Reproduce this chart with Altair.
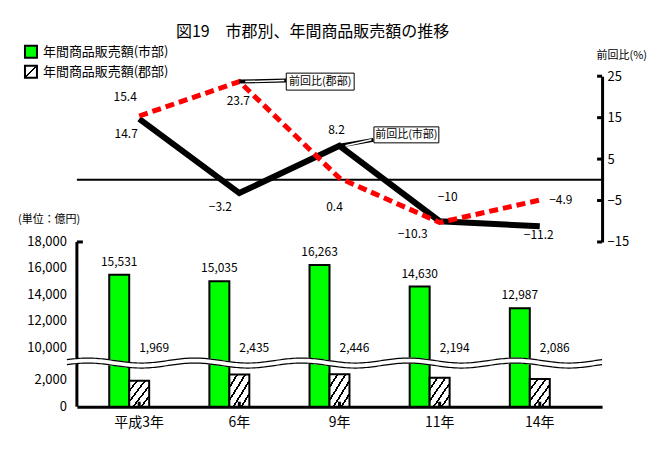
import altair as alt
import pandas as pd
import numpy as np

# ---------------- data ----------------
YEARS = ["平成3年", "6年", "9年", "11年", "14年"]
SALES_CITY = [15531, 15035, 16263, 14630, 12987]      # 年間商品販売額(市部) 億円
SALES_COUNTY = [1969, 2435, 2446, 2194, 2086]         # 年間商品販売額(郡部) 億円
RATE_CITY = [14.7, -3.2, 8.2, -10.0, -11.2]           # 前回比(市部) %
RATE_COUNTY = [15.4, 23.7, 0.4, -10.3, -4.9]          # 前回比(郡部) %
RATE_TICKS = [25, 15, 5, -5, -15]
SALES_TICKS = [0, 2000, 10000, 12000, 14000, 16000, 18000]

TITLE = "図19　市郡別、年間商品販売額の推移"
LEGEND_CITY = "年間商品販売額(市部)"
LEGEND_COUNTY = "年間商品販売額(郡部)"
RATE_AXIS_TITLE = "前回比(%)"
UNIT_TITLE = "(単位：億円)"
CALLOUT_CITY = "前回比(市部)"
CALLOUT_COUNTY = "前回比(郡部)"

# ---------------- layout / style ----------------
W = 526
H_TOP = 166
H_BOT = 165
GAP = 5550          # amount removed by the axis break
BREAK_LOW = 5000    # data values above this are shifted down by GAP
BREAK_DISP = 3300   # where the wavy break is drawn (display units)
Y_MAX_DISP = SALES_TICKS[-1] - GAP
FONT = "Noto Sans CJK JP"
GREEN = "#00ff00"
RED = "#ff0000"

CITY_LABEL_OFFSETS = [(-13, 15), (-19, 14), (-3, -16), (8, -24), (-1, 9)]
COUNTY_LABEL_OFFSETS = [(-14, -19), (-1, 19), (-5, 29), (-27, 12), (21, 0)]


def hatch(n, d):
    stops = [alt.GradientStop(color="white", offset=0)]
    for k in range(1, n):
        t = k / n
        stops += [alt.GradientStop(color="white", offset=t - d),
                  alt.GradientStop(color="black", offset=t - d),
                  alt.GradientStop(color="black", offset=t + d),
                  alt.GradientStop(color="white", offset=t + d)]
    stops.append(alt.GradientStop(color="white", offset=1))
    return alt.LinearGradient(gradient="linear", stops=stops, x1=0, y1=0, x2=1, y2=1)


def wave_path(width_px, period, amp, phase_px):
    r = width_px / 2
    pts = []
    for x in np.arange(0, width_px + 0.1, 2):
        y = -amp * np.cos(2 * np.pi * (x - phase_px) / period)
        pts.append(f"{(x - r) / r:.4f},{y / r:.4f}")
    return "M" + " L".join(pts)


def rect_path(w, h):
    hh = h / w
    return f"M-1,{-hh:.4f}H1V{hh:.4f}H-1Z"


XSCALE = alt.Scale(type="band", domain=YEARS, paddingInner=0, paddingOuter=0.122)
X_NOAXIS = alt.X("year:N", scale=XSCALE, axis=None)

df_city = pd.DataFrame({"year": YEARS, "rate": RATE_CITY})
df_county = pd.DataFrame({"year": YEARS, "rate": RATE_COUNTY})
df_rticks = pd.DataFrame({"rate": RATE_TICKS})
df_sc = pd.DataFrame({"year": YEARS, "sales": SALES_CITY})
df_sg = pd.DataFrame({"year": YEARS, "sales": SALES_COUNTY})
one = pd.DataFrame({"k": [0]})

# ---------------- top panel: 前回比 ----------------
YR = alt.Y("rate:Q", scale=alt.Scale(domain=[-15, 25], nice=False),
           axis=alt.Axis(orient="right", values=RATE_TICKS, ticks=False, grid=False,
                         domainColor="black", domainWidth=3, labelFontSize=13,
                         labelColor="black", labelPadding=5, labelOverlap=False,
                         title=RATE_AXIS_TITLE, titleAngle=0, titleX=-6, titleY=-21,
                         titleAlign="left", titleBaseline="middle",
                         titleFontSize=11, titleFontWeight="normal", titleColor="black"))

top_layers = []
top_layers.append(alt.Chart(df_city).mark_line(color="black", strokeWidth=6).encode(x=X_NOAXIS, y=YR))
top_layers.append(alt.Chart(one).mark_rule(color="black", strokeWidth=2).encode(y=alt.datum(0)))
top_layers.append(alt.Chart(df_rticks).mark_rule(color="black", strokeWidth=3).encode(
    y=YR, x=alt.value(W - 5), x2=alt.value(W)))
top_layers.append(alt.Chart(df_county).mark_line(color=RED, strokeWidth=5, strokeDash=[9, 5]).encode(x=X_NOAXIS, y=YR))

for df, offs in ((df_city, CITY_LABEL_OFFSETS), (df_county, COUNTY_LABEL_OFFSETS)):
    for i, (dx, dy) in enumerate(offs):
        top_layers.append(
            alt.Chart(df).transform_filter(alt.datum.year == YEARS[i])
            .mark_text(dx=dx, dy=dy, fontSize=12, color="black", baseline="middle")
            .encode(x=X_NOAXIS, y=YR, text=alt.Text("rate:Q", format=".3~g")))

# callouts
for df, idx, txt, bw, bh, ox, oy, lx, ly in (
        (df_county, 1, CALLOUT_COUNTY, 68, 17, 81, 0, 47, -1),
        (df_city, 2, CALLOUT_CITY, 65, 16, 67, -11, 34, -6)):
    base = alt.Chart(df).transform_filter(alt.datum.year == YEARS[idx])
    top_layers.append(base.mark_rule(color="black", strokeWidth=4, x2Offset=lx, y2Offset=ly).encode(
        x=X_NOAXIS, y=YR, x2="year:N", y2="rate:Q"))
    top_layers.append(base.mark_rule(color="white", strokeWidth=1.5, x2Offset=lx - 2, y2Offset=ly, xOffset=6).encode(
        x=X_NOAXIS, y=YR, x2="year:N", y2="rate:Q"))
    top_layers.append(base.mark_point(shape=rect_path(bw, bh), size=bw * bw, filled=True, fill="white",
                                      stroke="black", strokeWidth=1, opacity=1, xOffset=ox, yOffset=oy)
                      .encode(x=X_NOAXIS, y=YR))
    top_layers.append(base.mark_text(fontSize=11, color="black", dx=ox, dy=oy, baseline="middle")
                      .encode(x=X_NOAXIS, y=YR, text=alt.datum(txt)))

# legend + title
top_layers.append(alt.Chart(one).mark_square(size=144, fill=GREEN, stroke="black", strokeWidth=2, opacity=1)
                  .encode(x=alt.value(-46), y=alt.value(-24.5)))
top_layers.append(alt.Chart(one).mark_square(size=144, fill=hatch(2, 0.05), stroke="black", strokeWidth=2, opacity=1)
                  .encode(x=alt.value(-46), y=alt.value(-4.5)))
top_layers.append(alt.Chart(one).mark_text(align="left", baseline="middle", fontSize=13, color="black")
                  .encode(x=alt.value(-34), y=alt.value(-24.5), text=alt.datum(LEGEND_CITY)))
top_layers.append(alt.Chart(one).mark_text(align="left", baseline="middle", fontSize=13, color="black")
                  .encode(x=alt.value(-34), y=alt.value(-4.5), text=alt.datum(LEGEND_COUNTY)))
top_layers.append(alt.Chart(one).mark_text(align="center", baseline="middle", fontSize=16, color="black")
                  .encode(x=alt.value(236), y=alt.value(-44), text=alt.datum(TITLE)))

top = alt.layer(*top_layers).properties(width=W, height=H_TOP)

# ---------------- bottom panel: 販売額 (broken axis) ----------------
disp_expr = f"datum.sales > {BREAK_LOW} ? datum.sales - {GAP} : datum.sales"
tick_disp = [t if t <= BREAK_LOW else t - GAP for t in SALES_TICKS]
df_yticks = pd.DataFrame({"tick": SALES_TICKS})

XB = alt.X("year:N", scale=XSCALE,
           axis=alt.Axis(title=None, ticks=False, labelAngle=0, labelFontSize=14, labelColor="black",
                         labelPadding=9, domainColor="black", domainWidth=3))
YSCALE_B = alt.Scale(domain=[0, Y_MAX_DISP], nice=False)
YB = alt.Y("disp:Q", scale=YSCALE_B, axis=None)

bc = alt.Chart(df_sc).transform_calculate(disp=disp_expr)
bg = alt.Chart(df_sg).transform_calculate(disp=disp_expr)

bot_layers = [
    bc.mark_bar(width=20, xOffset=-20, fill=GREEN, stroke="black", strokeWidth=2).encode(x=XB, y=YB),
    bg.mark_bar(width=20, xOffset=0, fill=hatch(5, 0.025), stroke="black", strokeWidth=2).encode(x=XB, y=YB),
    bc.mark_text(xOffset=-20, dy=-9, fontSize=12, color="black", baseline="alphabetic")
      .encode(x=XB, y=YB, text=alt.Text("sales:Q", format=",")),
    bg.transform_calculate(disp=str(10000 - GAP)).mark_text(dx=15, fontSize=12, color="black", baseline="middle")
      .encode(x=XB, y=YB, text=alt.Text("sales:Q", format=",")),
    alt.Chart(df_sc).mark_rule(color="black", strokeWidth=3)
      .encode(x=XB, y=alt.value(H_BOT), y2=alt.value(H_BOT - 5)),
    # y axis: domain line, labels, top tick
    alt.Chart(one).mark_rule(color="black", strokeWidth=3)
      .encode(x=alt.value(0), y=alt.value(0), y2=alt.value(H_BOT)),
    alt.Chart(one).mark_rule(color="black", strokeWidth=3)
      .encode(y=alt.value(0), x=alt.value(0), x2=alt.value(6)),
    alt.Chart(df_yticks).transform_calculate(disp=f"datum.tick > {BREAK_LOW} ? datum.tick - {GAP} : datum.tick")
      .mark_text(align="right", baseline="middle", fontSize=13, color="black", dx=-10)
      .encode(x=alt.value(0), y=YB, text=alt.Text("tick:Q", format=",")),
    alt.Chart(one).mark_text(align="left", baseline="middle", fontSize=11, color="black")
      .encode(x=alt.value(-59), y=alt.value(-22), text=alt.datum(UNIT_TITLE)),
]
WAVE = wave_path(537, 107, 2.5, 21)
WAVE_Y = H_BOT * (1 - BREAK_DISP / Y_MAX_DISP)
bot_layers.append(alt.Chart(one).mark_point(shape=WAVE, size=537 ** 2, filled=False, stroke="white",
                                            strokeWidth=6, opacity=1)
                  .encode(x=alt.value(258.5), y=alt.value(WAVE_Y)))
for off in (-2.5, 2.5):
    bot_layers.append(alt.Chart(one).mark_point(shape=WAVE, size=537 ** 2, filled=False, stroke="black",
                                                strokeWidth=1.2, opacity=1, yOffset=off)
                      .encode(x=alt.value(258.5), y=alt.value(WAVE_Y)))

bottom = alt.layer(*bot_layers).properties(width=W, height=H_BOT)

chart = (
    alt.vconcat(top, bottom, spacing=0, bounds="flush")
    .properties(padding={"left": 10, "top": 16, "right": 5, "bottom": 5})
    .configure(font=FONT, background="white")
    .configure_view(stroke=None)
    .configure_axis(labelFont=FONT, titleFont=FONT)
    .configure_text(font=FONT)
)

chart.save("out.html", embed_options={"renderer": "svg", "actions": False})
